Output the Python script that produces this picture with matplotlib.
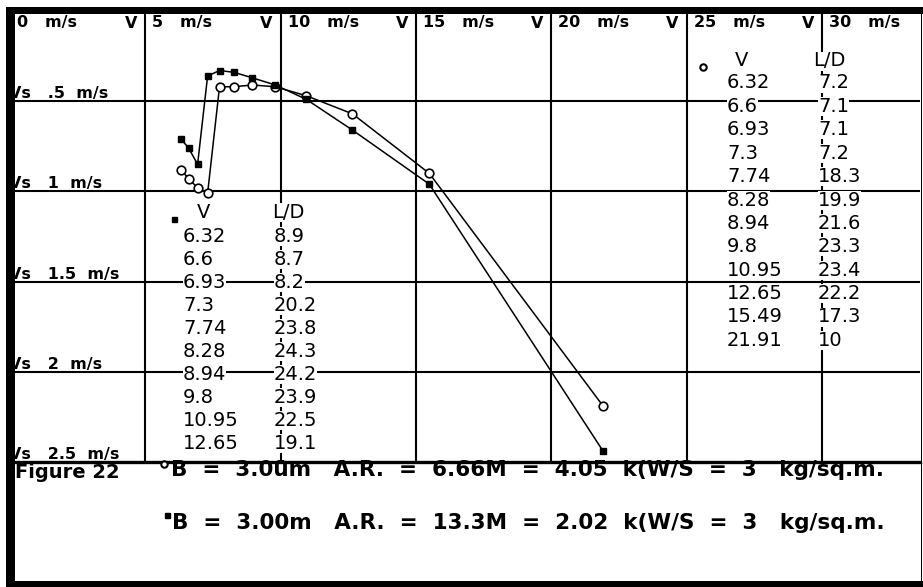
import matplotlib
matplotlib.use("Agg")
import matplotlib.pyplot as plt
from matplotlib.lines import Line2D
from matplotlib.patches import Rectangle
from matplotlib.transforms import offset_copy

W, H = 923, 587

# ---- data ----
# open circles: B = 3.00 m, A.R. = 6.66
circ_v = [6.32, 6.6, 6.93, 7.3, 7.74, 8.28, 8.94, 9.8, 10.95, 12.65, 15.49, 21.91]
circ_ld = [7.2, 7.1, 7.1, 7.2, 18.3, 19.9, 21.6, 23.3, 23.4, 22.2, 17.3, 10]
circ_sink = [0.88, 0.93, 0.98, 1.01, 0.42, 0.42, 0.41, 0.42, 0.47, 0.57, 0.90, 2.19]

# filled squares: B = 3.00 m, A.R. = 13.3
sq_v = [6.32, 6.6, 6.93, 7.3, 7.74, 8.28, 8.94, 9.8, 10.95, 12.65, 15.49, 21.91]
sq_ld = [8.9, 8.7, 8.2, 20.2, 23.8, 24.3, 24.2, 23.9, 22.5, 19.1]   # rows visible in the table
sq_sink = [0.71, 0.76, 0.85, 0.36, 0.33, 0.34, 0.37, 0.41, 0.49, 0.66, 0.96, 2.44]

x_ticks = [0, 5, 10, 15, 20, 25, 30]
y_ticks = [0.5, 1, 1.5, 2, 2.5]
y_tick_labels = [".5", "1", "1.5", "2", "2.5"]

caption_title = "Figure 22"
caption_1 = "B  =  3.0\u00fcm   A.R.  =  6.66M  =  4.05  k(W/S  =  3   kg/sq.m."
caption_2 = "B  =  3.00m   A.R.  =  13.3M  =  2.02  k(W/S  =  3   kg/sq.m."


def fx(x):
    return x / W


def fy(y):
    return 1 - y / H


fig = plt.figure(figsize=(W / 100, H / 100), dpi=100)
fig.patch.set_facecolor("white")

ax_left, ax_right, ax_top, ax_bot = 10, 920, 11, 462
ax = fig.add_axes([fx(ax_left), fy(ax_bot), (ax_right - ax_left) / W, (ax_bot - ax_top) / H])
ax.set_xlim(0, (ax_right - ax_left) / 27.07)
ax.set_ylim(2.5, 0)
for s in ax.spines.values():
    s.set_visible(False)
ax.set_xticks([])
ax.set_yticks([])

grid_lw = 1.5
for v in x_ticks[1:]:
    ax.axvline(v, color="black", lw=grid_lw, zorder=1)
for s in y_ticks[:-1]:
    ax.axhline(s, color="black", lw=grid_lw, zorder=1)
ax.axhline(2.5, color="black", lw=2.4, zorder=1, clip_on=False)

ax.plot(circ_v, circ_sink, color="black", lw=1.1, marker="o", ms=6.2,
        mfc="white", mec="black", mew=1.2, zorder=4)
ax.plot(sq_v, sq_sink, color="black", lw=1.1, marker="s", ms=4.6,
        mfc="black", mec="black", zorder=4)

# top velocity labels
top_font = dict(fontsize=11.5, fontweight="bold", family="DejaVu Sans", color="black")
for i, v in enumerate(x_ticks):
    tr = offset_copy(ax.transData, fig, x=7, y=-12, units="dots")
    ax.text(v, 0, f"{v}   m/s", transform=tr, ha="left", va="center", **top_font)
    if i < len(x_ticks) - 1:
        tr2 = offset_copy(ax.transData, fig, x=-8, y=-12, units="dots")
        ax.text(x_ticks[i + 1], 0, "V", transform=tr2, ha="right", va="center", **top_font)

# left sink labels
left_font = dict(fontsize=11.5, fontweight="bold", family="DejaVu Sans", color="black")
for s, lab in zip(y_ticks, y_tick_labels):
    tr = offset_copy(ax.transData, fig, x=-1, y=3, units="dots")
    ax.text(0, s, f"Vs   {lab}  m/s", transform=tr, ha="left", va="baseline", **left_font)

# tables
tab_font = dict(fontsize=14, family="DejaVu Sans", color="black", zorder=5,
                bbox=dict(facecolor="white", edgecolor="none", pad=0.0))


def fmt(val):
    return f"{val:g}"


def table(vals, lds, vx, ldx, y0, dy, hx, hy, hldx, mk, mkx, mky):
    fig.text(fx(hx), fy(hy), "V", ha="center", va="center", **tab_font)
    fig.text(fx(hldx), fy(hy), "L/D", ha="left", va="center", **tab_font)
    for i, (v, ld) in enumerate(zip(vals, lds)):
        y = y0 + i * dy
        fig.text(fx(vx), fy(y), fmt(v), ha="left", va="center", **tab_font)
        fig.text(fx(ldx), fy(y), fmt(ld), ha="left", va="center", **tab_font)
    fig.add_artist(Line2D([fx(mkx)], [fy(mky)], transform=fig.transFigure, **mk))


sq_mk = dict(marker="s", ms=3.6, mfc="black", mec="black", ls="none", zorder=6)
ci_mk = dict(marker="o", ms=4.6, mfc="white", mec="black", mew=1.5, ls="none", zorder=6)

table(sq_v[:len(sq_ld)], sq_ld, 183, 274, 236, 23.1, 204, 212, 272, sq_mk, 174, 219)
table(circ_v, circ_ld, 727, 818, 83, 23.4, 742, 61, 813, ci_mk, 703, 67)

# caption
cap_font = dict(fontsize=15.5, fontweight="bold", family="DejaVu Sans", color="black")
fig.text(fx(15), fy(472), caption_title, ha="left", va="center",
         **{**cap_font, "fontsize": 14})
fig.text(fx(171), fy(470), caption_1, ha="left", va="center", **cap_font)
fig.text(fx(172), fy(523), caption_2, ha="left", va="center", **cap_font)
fig.add_artist(Line2D([fx(164)], [fy(464)], transform=fig.transFigure, **ci_mk))
fig.add_artist(Line2D([fx(167)], [fy(515)], transform=fig.transFigure, **sq_mk))

# outer frame
def rect(x0, y0, x1, y1):
    fig.add_artist(Rectangle((fx(x0), fy(y1)), (x1 - x0) / W, (y1 - y0) / H,
                             transform=fig.transFigure, facecolor="black",
                             edgecolor="none", zorder=10))

rect(6, 7, 923, 14)      # top band
rect(6, 7, 15, 587)      # left band
rect(6, 581, 923, 587)   # bottom band
rect(920.5, 7, 921.5, 587)  # thin right edge

fig.savefig("out.png", dpi=100, facecolor="white")
